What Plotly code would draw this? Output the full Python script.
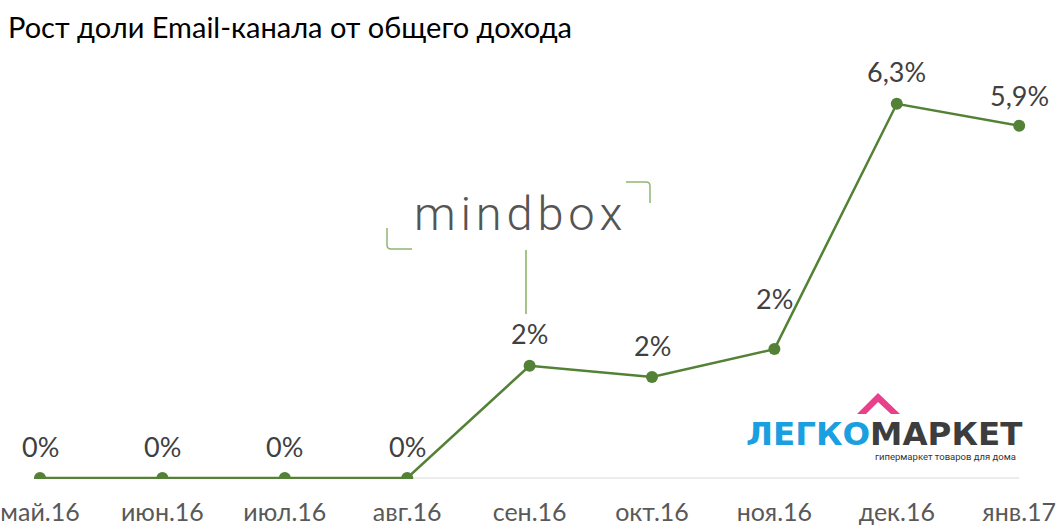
import plotly.graph_objects as go

months = ["май.16", "июн.16", "июл.16", "авг.16", "сен.16", "окт.16", "ноя.16", "дек.16", "янв.17"]
share = [0.0, 0.0, 0.0, 0.0, 1.89, 1.70, 2.17, 6.3, 5.93]
labels = ["0%", "0%", "0%", "0%", "2%", "2%", "2%", "6,3%", "5,9%"]
title_text = "Рост доли Email-канала от общего дохода"

W, H = 1060, 527
T, B = 60, 48
PLOT_H = H - T - B

def px(x):
    return x / W

def py(y):
    return (H - B - y) / PLOT_H

GREEN = "#538135"
xs = list(range(len(months)))

fig = go.Figure()
fig.add_trace(go.Scatter(
    x=xs, y=share, mode="lines+markers",
    line=dict(color=GREEN, width=2.5),
    marker=dict(color=GREEN, size=12),
    hoverinfo="skip", showlegend=False,
))

# label placement (the November label sits higher in the original)
label_shift = {6: 51, 8: 30}
annotations = []
for x, v, t in zip(xs, share, labels):
    annotations.append(dict(x=x, y=v, xref="x", yref="y", text=t, showarrow=False,
                            yshift=label_shift.get(x, 32), yanchor="middle",
                            font=dict(family="Lato", size=27, color="#404040")))

# title
annotations.append(dict(x=px(6), y=py(26), xref="paper", yref="paper", text=title_text,
                        showarrow=False, xanchor="left", yanchor="middle",
                        font=dict(family="Lato", size=29, color="#000000")))

# mindbox logo
sp = "\u200a"
annotations.append(dict(x=px(518), y=py(213), xref="paper", yref="paper",
                        text=sp.join("mindbox"), showarrow=False,
                        xanchor="center", yanchor="middle",
                        font=dict(family="Roboto", size=47, color="#555555", weight=300)))

# Legkomarket logo
annotations.append(dict(x=px(884), y=py(434), xref="paper", yref="paper",
                        text="<b><span style='color:#1a9fe0'>ЛЕГКО</span><span style='color:#3d3d3d'>МАРКЕТ</span></b>",
                        showarrow=False, xanchor="center", yanchor="middle",
                        font=dict(family="DejaVu Sans", size=32.5, color="#3d3d3d")))
annotations.append(dict(x=px(945), y=py(456), xref="paper", yref="paper",
                        text="гипермаркет товаров для дома", showarrow=False,
                        xanchor="center", yanchor="middle",
                        font=dict(family="Roboto", size=9.5, color="#333333")))

shapes = []
# baseline
shapes.append(dict(type="line", xref="x", yref="y", x0=0, x1=len(months) - 1, y0=0, y1=0,
                   line=dict(color="#d9d9d9", width=1), layer="below"))
# mindbox brackets
shapes.append(dict(type="path", xref="paper", yref="paper",
                   path=f"M {px(626)},{py(182)} L {px(646)},{py(182)} Q {px(650)},{py(182)} {px(650)},{py(186)} L {px(650)},{py(203)}",
                   line=dict(color="#8fb573", width=1.5)))
shapes.append(dict(type="path", xref="paper", yref="paper",
                   path=f"M {px(387)},{py(228)} L {px(387)},{py(245)} Q {px(387)},{py(249)} {px(391)},{py(249)} L {px(412)},{py(249)}",
                   line=dict(color="#8fb573", width=1.5)))
shapes.append(dict(type="line", xref="paper", yref="paper",
                   x0=px(526), x1=px(526), y0=py(250), y1=py(314),
                   line=dict(color="#6a9a3c", width=1.2)))
# roof
shapes.append(dict(type="path", xref="paper", yref="paper",
                   path=(f"M {px(878)},{py(393)} L {px(900)},{py(414)} L {px(891)},{py(414)} "
                         f"L {px(878)},{py(402)} L {px(866)},{py(414)} L {px(857)},{py(414)} Z"),
                   fillcolor="#e8408a", line=dict(width=0)))

fig.update_layout(
    width=W, height=H,
    margin=dict(l=0, r=0, t=T, b=B),
    paper_bgcolor="white", plot_bgcolor="white",
    xaxis=dict(range=[-40 / 122.4, 1020 / 122.4], tickvals=xs, ticktext=months,
               showgrid=False, zeroline=False, showline=False, ticks="",
               ticklabelstandoff=16,
               tickfont=dict(family="Lato", size=25, color="#595959"), automargin=False),
    yaxis=dict(range=[-(H - B - 478) / 59.4, (478 - T) / 59.4], showgrid=False, zeroline=False,
               showticklabels=False, showline=False, automargin=False),
    annotations=annotations, shapes=shapes,
)

fig.write_html("out.html", config={"displayModeBar": False},
               post_script="document.body.style.margin='0px';document.body.style.overflow='hidden';")
